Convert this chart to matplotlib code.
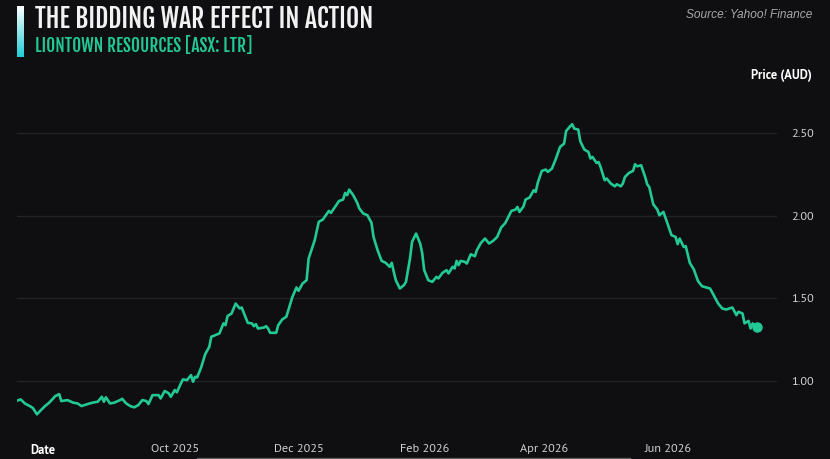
import numpy as np
import pandas as pd
import matplotlib
matplotlib.use('Agg')
import matplotlib.pyplot as plt
from matplotlib import font_manager as fm
from matplotlib.colors import LinearSegmentedColormap
from matplotlib.lines import Line2D

# dados (preço de fecho, AUD)
datas = [
    '2025-07-15', '2025-07-17', '2025-07-19', '2025-07-22', '2025-07-23', '2025-07-25', '2025-07-27', '2025-07-29', '2025-07-31',
    '2025-08-02', '2025-08-03', '2025-08-05', '2025-08-06', '2025-08-09', '2025-08-12', '2025-08-14', '2025-08-16', '2025-08-20',
    '2025-08-22', '2025-08-24', '2025-08-26', '2025-08-27', '2025-08-28', '2025-08-30',
    '2025-09-01', '2025-09-04', '2025-09-05', '2025-09-07', '2025-09-09', '2025-09-11', '2025-09-13', '2025-09-15', '2025-09-17',
    '2025-09-18', '2025-09-20', '2025-09-23', '2025-09-24', '2025-09-26', '2025-09-28', '2025-09-29',
    '2025-10-01', '2025-10-02', '2025-10-04', '2025-10-05', '2025-10-07', '2025-10-09', '2025-10-10', '2025-10-11', '2025-10-12',
    '2025-10-14', '2025-10-16', '2025-10-18', '2025-10-19', '2025-10-23', '2025-10-25', '2025-10-26', '2025-10-27', '2025-10-29',
    '2025-10-30', '2025-10-31',
    '2025-11-02', '2025-11-03', '2025-11-04', '2025-11-06', '2025-11-08', '2025-11-09', '2025-11-10', '2025-11-11', '2025-11-14',
    '2025-11-15', '2025-11-16', '2025-11-17', '2025-11-19', '2025-11-20', '2025-11-21', '2025-11-23', '2025-11-25', '2025-11-27',
    '2025-11-28', '2025-11-30',
    '2025-12-01', '2025-12-03', '2025-12-05', '2025-12-06', '2025-12-09', '2025-12-11', '2025-12-13', '2025-12-16', '2025-12-17',
    '2025-12-19', '2025-12-21', '2025-12-23', '2025-12-24', '2025-12-25', '2025-12-26', '2025-12-28', '2025-12-30', '2025-12-31',
    '2026-01-02', '2026-01-04', '2026-01-06', '2026-01-07', '2026-01-09', '2026-01-11', '2026-01-13', '2026-01-15', '2026-01-16',
    '2026-01-17', '2026-01-18', '2026-01-20', '2026-01-22', '2026-01-23', '2026-01-25', '2026-01-26', '2026-01-28', '2026-01-30',
    '2026-01-31',
    '2026-02-01', '2026-02-03', '2026-02-05', '2026-02-07', '2026-02-08', '2026-02-10', '2026-02-12', '2026-02-13', '2026-02-15',
    '2026-02-16', '2026-02-17', '2026-02-18', '2026-02-19', '2026-02-21', '2026-02-22', '2026-02-24', '2026-02-26', '2026-02-27',
    '2026-03-01', '2026-03-03', '2026-03-05', '2026-03-07', '2026-03-09', '2026-03-11', '2026-03-13', '2026-03-16', '2026-03-18',
    '2026-03-19', '2026-03-20', '2026-03-22', '2026-03-23', '2026-03-25', '2026-03-27', '2026-03-28', '2026-03-29', '2026-03-31',
    '2026-04-02', '2026-04-03', '2026-04-05', '2026-04-07', '2026-04-09', '2026-04-11', '2026-04-12', '2026-04-14', '2026-04-15',
    '2026-04-16', '2026-04-18', '2026-04-19', '2026-04-21', '2026-04-23', '2026-04-24', '2026-04-25', '2026-04-27', '2026-04-28',
    '2026-04-29',
    '2026-05-01', '2026-05-02', '2026-05-04', '2026-05-06', '2026-05-07', '2026-05-09', '2026-05-10', '2026-05-11', '2026-05-13',
    '2026-05-15', '2026-05-16', '2026-05-17', '2026-05-19', '2026-05-21', '2026-05-22', '2026-05-23', '2026-05-25', '2026-05-27',
    '2026-05-28', '2026-05-30',
    '2026-06-01', '2026-06-03', '2026-06-05', '2026-06-06', '2026-06-07', '2026-06-09', '2026-06-10', '2026-06-12', '2026-06-14',
    '2026-06-16', '2026-06-18', '2026-06-19', '2026-06-22', '2026-06-24', '2026-06-26', '2026-06-28', '2026-06-30',
    '2026-07-03', '2026-07-05', '2026-07-06', '2026-07-08', '2026-07-09', '2026-07-11', '2026-07-12', '2026-07-13', '2026-07-14',
    '2026-07-15',
]
precos = [
    0.881, 0.889, 0.865, 0.845, 0.837, 0.799, 0.825, 0.849, 0.869,
    0.895, 0.909, 0.921, 0.879, 0.885, 0.869, 0.865, 0.849, 0.865,
    0.871, 0.875, 0.905, 0.875, 0.902, 0.865,
    0.869, 0.885, 0.893, 0.865, 0.849, 0.841, 0.855, 0.885, 0.879,
    0.861, 0.915, 0.915, 0.895, 0.940, 0.926, 0.905,
    0.946, 0.932, 0.986, 1.010, 1.006, 1.036, 0.996, 1.026, 1.022,
    1.083, 1.163, 1.207, 1.268, 1.288, 1.349, 1.338, 1.393, 1.409,
    1.439, 1.469,
    1.439, 1.445, 1.413, 1.352, 1.349, 1.332, 1.344, 1.318, 1.324,
    1.332, 1.318, 1.292, 1.292, 1.292, 1.338, 1.373, 1.389, 1.469,
    1.509, 1.566,
    1.546, 1.590, 1.610, 1.741, 1.852, 1.963, 1.977, 2.029, 2.017,
    2.053, 2.089, 2.098, 2.138, 2.124, 2.158, 2.124, 2.077, 2.044,
    2.013, 2.003, 1.957, 1.872, 1.792, 1.727, 1.715, 1.691, 1.715,
    1.660, 1.610, 1.560, 1.580, 1.600, 1.741, 1.842, 1.892, 1.832,
    1.775,
    1.671, 1.610, 1.600, 1.630, 1.621, 1.654, 1.671, 1.651, 1.691,
    1.681, 1.727, 1.701, 1.727, 1.721, 1.711, 1.767, 1.755, 1.792,
    1.836, 1.862, 1.832, 1.848, 1.872, 1.929, 1.956, 2.029, 2.037,
    2.053, 2.023, 2.057, 2.098, 2.110, 2.154, 2.144, 2.198, 2.271,
    2.279, 2.265, 2.285, 2.346, 2.416, 2.436, 2.512, 2.541, 2.553,
    2.527, 2.521, 2.450, 2.400, 2.386, 2.346, 2.356, 2.319, 2.325,
    2.295,
    2.215, 2.225, 2.195, 2.178, 2.190, 2.178, 2.195, 2.234, 2.259,
    2.271, 2.311, 2.299, 2.305, 2.234, 2.190, 2.174, 2.069, 2.037,
    2.003, 2.023,
    1.953, 1.882, 1.872, 1.828, 1.862, 1.811, 1.816, 1.715, 1.675,
    1.606, 1.574, 1.570, 1.560, 1.514, 1.469, 1.439, 1.433,
    1.445, 1.399, 1.419, 1.409, 1.349, 1.364, 1.318, 1.349, 1.332,
    1.328,
]

ticks_x = ['2025-10-01', '2025-12-01', '2026-02-01', '2026-04-01', '2026-06-01']
rotulos_x = ['Oct 2025', 'Dec 2025', 'Feb 2026', 'Apr 2026', 'Jun 2026']
ticks_y = [1.0, 1.5, 2.0, 2.5]

fundo = '#0f0f11'
verde = '#22c995'


# escolhe a primeira fonte instalada que tenha o peso pedido
def fonte(opcoes):
    pesos = {}
    for f in fm.fontManager.ttflist:
        w = f.weight
        if isinstance(w, str):
            w = fm.weight_dict.get(w, 400) if not w.isdigit() else int(w)
        pesos.setdefault(f.name, []).append(w)
    for nome, peso in opcoes:
        if peso in pesos.get(nome, []):
            return nome, peso
    return 'DejaVu Sans', 700


f_titulo, p_titulo = fonte([('Fjalla One', 400), ('Oswald', 700), ('Barlow Condensed', 700),
                            ('Roboto Condensed', 700), ('Anton', 400)])
f_negrito, p_negrito = fonte([('Source Sans Pro', 700), ('Source Sans 3', 700), ('Assistant', 700),
                              ('PT Sans', 700), ('Fira Sans', 600), ('Lato', 700)])
f_texto, _ = fonte([('Source Sans Pro', 400), ('Source Sans 3', 400), ('Assistant', 400),
                    ('PT Sans', 400), ('Fira Sans', 400), ('Lato', 400)])
f_fonte, _ = fonte([('Liberation Sans', 400), ('Arimo', 400)])

x = pd.to_datetime(datas)

fig = plt.figure(figsize=(8.3, 4.59), dpi=100, facecolor=fundo)
ax = fig.add_axes([0.0201, 0.0797, 0.916, 0.7205])
ax.set_facecolor(fundo)

ax.plot(x, precos, color=verde, linewidth=1.9, solid_joinstyle='round')
ax.plot(x[-1:], precos[-1:], 'o', color=verde, markersize=6.5)

ax.set_xlim(pd.Timestamp('2025-07-15'), pd.Timestamp('2026-07-25'))
ax.set_ylim(0.75, 2.75)

ax.set_yticks(ticks_y)
ax.set_yticklabels([f'{v:.2f}' for v in ticks_y])
ax.yaxis.tick_right()
ax.set_xticks(pd.to_datetime(ticks_x))
ax.set_xticklabels(rotulos_x)

for lab in ax.get_xticklabels() + ax.get_yticklabels():
    lab.set_family(f_texto)
    lab.set_fontsize(8.8)
    lab.set_color('#d0d0d0')
ax.tick_params(axis='x', length=0, pad=15.5)
ax.tick_params(axis='y', length=0, pad=10)

ax.grid(axis='y', color='#232327', linewidth=1)
ax.grid(axis='x', visible=False)
for s in ax.spines.values():
    s.set_visible(False)

# títulos
fig.text(35 / 830, 1 - 19 / 459, 'THE BIDDING WAR EFFECT IN ACTION', family=f_titulo,
         fontweight=p_titulo, fontsize=18.5, color='#f2f2f2', va='center', ha='left')
fig.text(35 / 830, 1 - 46.5 / 459, 'LIONTOWN RESOURCES [ASX: LTR]', family=f_titulo,
         fontweight=p_titulo, fontsize=12.5, color=verde, va='center', ha='left')
fig.text(812 / 830, 1 - 15 / 459, 'Source: Yahoo! Finance', family=f_fonte, style='italic',
         fontsize=8.6, color='#a8a8a8', va='center', ha='right')
fig.text(812 / 830, 1 - 76 / 459, 'Price (AUD)', family=f_negrito, fontweight=p_negrito,
         fontsize=9, color='#ffffff', va='center', ha='right')
fig.text(30.5 / 830, 1 - 450 / 459, 'Date', family=f_negrito, fontweight=p_negrito,
         fontsize=9, color='#ffffff', va='center', ha='left')

# barra com degradê ao lado do título
ax_barra = fig.add_axes([16.7 / 830, 1 - 57 / 459, 6.6 / 830, 51 / 459])
cmap = LinearSegmentedColormap.from_list('barra', ['#ffffff', '#20cdd6'])
ax_barra.imshow(np.linspace(0, 1, 100).reshape(-1, 1), aspect='auto', cmap=cmap)
ax_barra.axis('off')

# linha cinza no rodapé
fig.add_artist(Line2D([197 / 830, 630 / 830], [1.2 / 459, 1.2 / 459], color='#5a5a5a', linewidth=1))

fig.savefig('out.png', dpi=100, facecolor=fundo)
